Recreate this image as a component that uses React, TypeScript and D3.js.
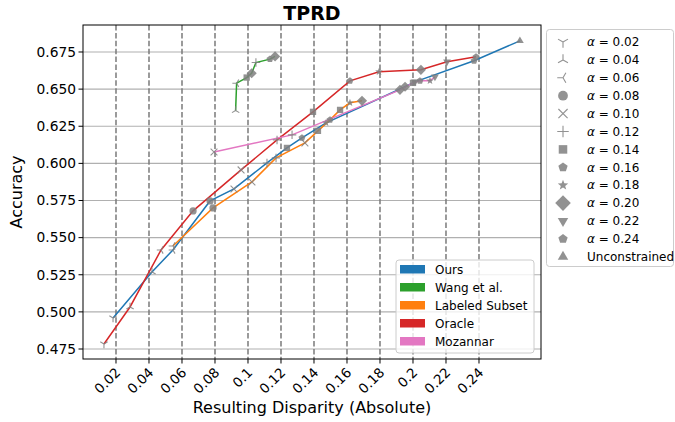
import React from "react";
import * as d3 from "d3";

const xTicks = [0.02, 0.04, 0.06, 0.08, 0.1, 0.12, 0.14, 0.16, 0.18, 0.2, 0.22, 0.24];
const xTickLabels = ["0.02", "0.04", "0.06", "0.08", "0.1", "0.12", "0.14", "0.16", "0.18", "0.2", "0.22", "0.24"];
const yTicks = [0.475, 0.5, 0.525, 0.55, 0.575, 0.6, 0.625, 0.65, 0.675];
const yTickLabels = ["0.475", "0.500", "0.525", "0.550", "0.575", "0.600", "0.625", "0.650", "0.675"];

const alphaLabels = ["0.02", "0.04", "0.06", "0.08", "0.10", "0.12", "0.14", "0.16", "0.18", "0.20", "0.22", "0.24"];
const markerTypes = ["tri_down", "tri_up", "tri_left", "circle", "x", "plus", "square", "pentagon", "star", "diamond", "tri_v", "pentagon", "triangle"];

const seriesNames = ["Ours", "Wang et al.", "Labeled Subset", "Oracle", "Mozannar"];
const seriesColors = ["#1f77b4", "#2ca02c", "#ff7f0e", "#d62728", "#e377c2"];

const oursX = [0.0182, 0.0418, 0.0545, 0.077, 0.0915, 0.1115, 0.1236, 0.1327, 0.1473, 0.1952, 0.2012, 0.237, 0.2648];
const oursY = [0.4959, 0.5269, 0.5417, 0.5747, 0.5828, 0.6003, 0.6104, 0.6172, 0.6273, 0.6516, 0.6549, 0.6691, 0.6825];
const oursM = [0, 1, 2, 3, 4, 5, 6, 7, 8, 9, 10, 11, 12];

const wangX = [0.0925, 0.0931, 0.0992, 0.1022, 0.1048, 0.1133, 0.1164];
const wangY = [0.6356, 0.654, 0.6578, 0.6607, 0.6679, 0.6702, 0.672];
const wangM = [1, 2, 6, 9, 5, 7, 9];

const labeledX = [0.0545, 0.0788, 0.1024, 0.117, 0.1345, 0.1424, 0.1497, 0.1558, 0.1618, 0.1691];
const labeledY = [0.5444, 0.57, 0.5875, 0.6037, 0.6138, 0.6219, 0.6293, 0.636, 0.6408, 0.6421];
const labeledM = [2, 3, 4, 5, 4, 6, 7, 6, 8, 9];

const oracleX = [0.0127, 0.0285, 0.0473, 0.0667, 0.0958, 0.1176, 0.1394, 0.1618, 0.1794, 0.2048, 0.2206, 0.2382];
const oracleY = [0.4784, 0.5033, 0.5417, 0.568, 0.5956, 0.6158, 0.6347, 0.6556, 0.6617, 0.663, 0.6684, 0.6718];
const oracleM = [0, 1, 2, 3, 4, 5, 6, 7, 8, 9, 10, 11];

const mozX = [0.0794, 0.1267, 0.1921, 0.2, 0.2042, 0.2103, 0.2133];
const mozY = [0.6077, 0.6192, 0.6495, 0.6542, 0.6556, 0.6556, 0.6583];
const mozM = [4, 5, 9, 6, 7, 8, 10];

const W = 675, H = 422;
const L = 83, R = 541, T = 25, B = 359;
const x = d3.scaleLinear().domain([0, 0.27758]).range([L, R]);
const y = d3.scaleLinear().domain([0.46827, 0.69318]).range([B, T]);

const FONT = "DejaVu Sans, sans-serif";
const GRAY = "#808080";

function poly(n: number, r: number, rot = -90, inner = 0) {
  const pts: [number, number][] = [];
  const steps = inner ? n * 2 : n;
  for (let i = 0; i < steps; i++) {
    const a = ((rot + (360 / steps) * i) * Math.PI) / 180;
    const rr = inner && i % 2 === 1 ? inner : r;
    pts.push([rr * Math.cos(a), rr * Math.sin(a)]);
  }
  return "M" + pts.map((p) => p[0].toFixed(2) + "," + p[1].toFixed(2)).join("L") + "Z";
}

function tri(dirs: number[], r: number) {
  return dirs
    .map((d) => {
      const a = (d * Math.PI) / 180;
      return `M0,0L${(r * Math.cos(a)).toFixed(2)},${(r * Math.sin(a)).toFixed(2)}`;
    })
    .join("");
}

function Marker({ type, cx, cy, s }: { type: string; cx: number; cy: number; s: number }) {
  const r = s / 2;
  let d = "";
  let filled = true;
  switch (type) {
    case "tri_down": d = tri([90, 210, 330], r); filled = false; break;
    case "tri_up": d = tri([-90, 30, 150], r); filled = false; break;
    case "tri_left": d = tri([180, 60, -60], r); filled = false; break;
    case "x": d = `M${-r * 0.8},${-r * 0.8}L${r * 0.8},${r * 0.8}M${-r * 0.8},${r * 0.8}L${r * 0.8},${-r * 0.8}`; filled = false; break;
    case "plus": d = `M${-r},0L${r},0M0,${-r}L0,${r}`; filled = false; break;
    case "circle": return <circle cx={cx} cy={cy} r={r * 0.85} fill={GRAY} />;
    case "square": d = poly(4, r * 1.05, 45); break;
    case "pentagon": d = poly(5, r * 0.85); break;
    case "star": d = poly(5, r * 0.95, -90, r * 0.4); break;
    case "diamond": d = poly(4, r * 1.2, -90); break;
    case "tri_v": d = poly(3, r * 1.05, 90); break;
    case "triangle": d = poly(3, r * 1.05, -90); break;
  }
  return (
    <path
      d={d}
      transform={`translate(${cx},${cy})`}
      fill={filled ? GRAY : "none"}
      stroke={GRAY}
      strokeWidth={filled ? 0 : 1.1}
    />
  );
}

const allSeries = [
  { xs: oursX, ys: oursY, ms: oursM },
  { xs: wangX, ys: wangY, ms: wangM },
  { xs: labeledX, ys: labeledY, ms: labeledM },
  { xs: oracleX, ys: oracleY, ms: oracleM },
  { xs: mozX, ys: mozY, ms: mozM },
];

export default function App() {
  const line = d3.line<[number, number]>().x((d) => x(d[0])).y((d) => y(d[1]));
  const legendLabels = [...alphaLabels, "Unconstrained"];
  return (
    <svg width={W} height={H} style={{ position: "absolute", left: 0, top: 0, background: "#fff" }} fontFamily={FONT}>
      <rect x={0} y={0} width={W} height={H} fill="#fff" />
      {yTicks.map((t, i) => (
        <line key={"hg" + i} x1={L} x2={R} y1={y(t)} y2={y(t)} stroke="#b0b0b0" strokeWidth={1.1} />
      ))}
      {xTicks.map((t, i) => (
        <line key={"vg" + i} x1={x(t)} x2={x(t)} y1={T} y2={B} stroke="#7a7a7a" strokeWidth={1.5} strokeDasharray="5.5,2.4" />
      ))}
      {allSeries.map((s, si) => (
        <path
          key={"l" + si}
          d={line(s.xs.map((v, i) => [v, s.ys[i]] as [number, number])) || ""}
          fill="none"
          stroke={seriesColors[si]}
          strokeWidth={1.5}
        />
      ))}
      {allSeries.map((s, si) =>
        s.xs.map((v, i) => (
          <g key={"m" + si + "-" + i} opacity={0.85}>
            <Marker type={markerTypes[s.ms[i]]} cx={x(v)} cy={y(s.ys[i])} s={8.5} />
          </g>
        ))
      )}
      <rect x={L} y={T} width={R - L} height={B - T} fill="none" stroke="#000" strokeWidth={1} />
      {yTicks.map((t, i) => (
        <g key={"yt" + i}>
          <line x1={L - 4.5} x2={L} y1={y(t)} y2={y(t)} stroke="#000" strokeWidth={1} />
          <text x={L - 7} y={y(t)} dy="0.35em" textAnchor="end" fontSize={13.8}>
            {yTickLabels[i]}
          </text>
        </g>
      ))}
      {xTicks.map((t, i) => (
        <g key={"xt" + i}>
          <line x1={x(t)} x2={x(t)} y1={B} y2={B + 4.5} stroke="#000" strokeWidth={1} />
          <text
            transform={`translate(${x(t) + 2},${B + 11}) rotate(-45)`}
            textAnchor="end"
            dy="0.35em"
            fontSize={13.5}
          >
            {xTickLabels[i]}
          </text>
        </g>
      ))}
      <text x={(L + R) / 2} y={20} textAnchor="middle" fontSize={19} fontWeight="bold">TPRD</text>
      <text x={(L + R) / 2} y={413} textAnchor="middle" fontSize={16}>Resulting Disparity (Absolute)</text>
      <text transform={`translate(22,${(T + B) / 2}) rotate(-90)`} textAnchor="middle" fontSize={16}>Accuracy</text>

      <rect x={396} y={260} width={138} height={93} rx={3} fill="#fff" fillOpacity={0.8} stroke="#cccccc" strokeWidth={1} />
      {seriesNames.map((n, i) => (
        <g key={"lg" + i}>
          <rect x={400} y={265 + i * 18} width={25} height={8.5} fill={seriesColors[i]} />
          <text x={435} y={269.3 + i * 18} dy="0.35em" fontSize={12}>{n}</text>
        </g>
      ))}

      <rect x={546.5} y={29.5} width={127} height={237} rx={3} fill="#fff" stroke="#cccccc" strokeWidth={1} />
      {legendLabels.map((lab, i) => (
        <g key={"la" + i}>
          <g opacity={0.85}>
            <Marker type={markerTypes[i]} cx={563} cy={42 + i * 17.9} s={i === 9 ? 13 : 11.5} />
          </g>
          <text x={587} y={42 + i * 17.9} dy="0.35em" fontSize={12}>
            {i < 12 ? (
              <>
                <tspan fontStyle="italic">α</tspan>
                {" = " + lab}
              </>
            ) : (
              lab
            )}
          </text>
        </g>
      ))}
    </svg>
  );
}
